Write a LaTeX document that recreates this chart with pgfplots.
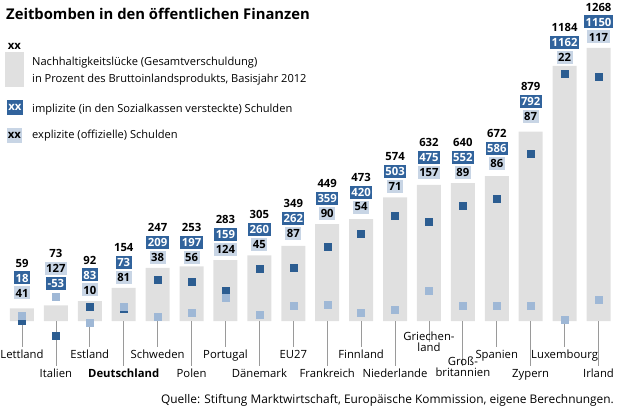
\documentclass[border=0pt]{standalone}
\usepackage{fontspec}
\setmainfont{Open Sans}
\usepackage{pgfplots}
\usepackage{pgfplotstable}
\pgfplotsset{compat=1.18}
\definecolor{barg}{HTML}{E0E0E0}
\definecolor{lineg}{HTML}{9A9A9A}
\definecolor{darkb}{HTML}{31639C}
\definecolor{darkm}{HTML}{2C5D91}
\definecolor{lightm}{HTML}{9FB8D6}
\definecolor{lightb}{HTML}{C8D5E5}
\newcommand\labfont{\fontsize{11.3}{11}\selectfont}
\newcommand\numfont{\bfseries\fontsize{11.3}{11}\selectfont}
\newcommand\legfont{\fontsize{11.1}{11.1}\selectfont}
\pgfplotstableread{
x tot impl expl lab dl ll lead
1 59 18 41 130 1 0 -120
2 73 -53 127 176 0 1 -209
3 92 83 10 144 1 0 -120
4 154 73 81 204 1 0 -209
5 247 209 38 297 1 0 -120
6 253 197 56 297 1 0 -209
7 283 159 124 334 1 0 -120
8 305 260 45 353 1 0 -209
9 349 262 87 404 1 0 -120
10 449 359 90 501 1 0 -209
11 473 420 54 529 1 0 -120
12 574 503 71 626 1 0 -209
13 632 475 157 687 1 0 -97
14 640 552 89 691 1 0 -209
15 672 586 86 729 1 0 -120
16 879 792 87 947 1 0 -209
17 1184 1162 22 1225 1 0 -120
18 1268 1150 117 1318 1 0 -209
}\data
\begin{document}
\begin{tikzpicture}
\useasboundingbox (0,0) rectangle (620pt,413pt);
\begin{axis}[at={(0pt,0pt)}, anchor=south west, scale only axis,
  width=620pt, height=413pt,
  xmin=0.3513, xmax=18.634, ymin=-426.9, ymax=1489.6,
  hide axis, clip=false]
\addplot[ybar, bar width=24pt, fill=barg, draw=none] table[x=x,y=tot]{\data};
\addplot[ycomb, draw=lineg, line width=0.8pt, mark=none] table[x=x,y=lead]{\data};
\addplot[only marks, mark=square*, mark size=3.5pt, color=darkm, yshift=-3.5pt] table[x=x,y=impl]{\data};
\addplot[only marks, mark=square*, mark size=3.5pt, color=lightm, yshift=-3.5pt] table[x=x,y=expl]{\data};
% total labels
\addplot[draw=none, mark=none, nodes near coords, point meta=explicit symbolic,
  nodes near coords style={anchor=center, font=\numfont, text=black, inner sep=0pt}]
  table[x=x, y expr=\thisrow{lab}+139.2, meta=tot]{\data};
% implicit labels
\addplot[draw=none, mark=none, nodes near coords, point meta=explicit symbolic,
  nodes near coords style={anchor=center, font=\numfont, text=white, fill=darkb, inner xsep=1.5pt, inner ysep=0pt, minimum height=13pt}]
  table[x=x, y expr=\thisrow{lab}+\thisrow{dl}*69.6, meta=impl]{\data};
% explicit labels
\addplot[draw=none, mark=none, nodes near coords, point meta=explicit symbolic,
  nodes near coords style={anchor=center, font=\numfont, text=black, fill=lightb, inner xsep=1.5pt, inner ysep=0pt, minimum height=13pt}]
  table[x=x, y expr=\thisrow{lab}+\thisrow{ll}*69.6, meta=expl]{\data};
% country labels
\begin{scope}[every node/.style={anchor=base, font=\labfont, inner sep=0pt, align=center}]
\node at (axis cs:1,-174) {Lettland};
\node at (axis cs:3,-174) {Estland};
\node at (axis cs:5,-174) {Schweden};
\node at (axis cs:7,-174) {Portugal};
\node at (axis cs:9,-174) {EU27};
\node at (axis cs:11,-174) {Finnland};
\node at (axis cs:13,-139.2) {Griechen-\\land};
\node at (axis cs:15,-174) {Spanien};
\node at (axis cs:17,-174) {Luxembourg};
\node at (axis cs:2,-259.9) {Italien};
\node at (axis cs:4,-259.9) {\bfseries Deutschland};
\node at (axis cs:6,-259.9) {Polen};
\node at (axis cs:8,-259.9) {Dänemark};
\node at (axis cs:10,-259.9) {Frankreich};
\node at (axis cs:12,-259.9) {Niederlande};
\node at (axis cs:14,-255.2) {Groß-\\britannien};
\node at (axis cs:16,-259.9) {Zypern};
\node at (axis cs:18,-259.9) {Irland};
\end{scope}
\end{axis}
% title
\node[anchor=base west, inner sep=0pt, font=\bfseries\fontsize{14.8}{14.8}\selectfont] at (6pt,393.7pt) {Zeitbomben in den öffentlichen Finanzen};
% legend
\node[anchor=base, inner sep=0pt, font=\numfont] at (14.5pt,363pt) {xx};
\fill[barg] (5pt,361pt) rectangle (24pt,326pt);
\node[anchor=base west, inner sep=0pt, font=\legfont] at (32pt,347pt) {Nachhaltigkeitslücke (Gesamtverschuldung)};
\node[anchor=base west, inner sep=0pt, font=\legfont] at (32pt,330pt) {in Prozent des Bruttoinlandsprodukts, Basisjahr 2012};
\fill[darkb] (7pt,313pt) rectangle (23pt,298pt);
\node[anchor=center, inner sep=0pt, font=\numfont, text=white] at (15pt,305.5pt) {xx};
\node[anchor=base west, inner sep=0pt, font=\legfont] at (32pt,300pt) {implizite (in den Sozialkassen versteckte) Schulden};
\fill[lightb] (7pt,285pt) rectangle (22pt,270pt);
\node[anchor=center, inner sep=0pt, font=\numfont, text=black] at (14.5pt,277.5pt) {xx};
\node[anchor=base west, inner sep=0pt, font=\legfont] at (32pt,275pt) {explizite (offizielle) Schulden};
% source
\node[anchor=base east, inner sep=0pt, font=\fontsize{11.9}{11.9}\selectfont] at (614pt,10pt) {Quelle: Stiftung Marktwirtschaft, Europäische Kommission, eigene Berechnungen.};
\end{tikzpicture}
\end{document}
